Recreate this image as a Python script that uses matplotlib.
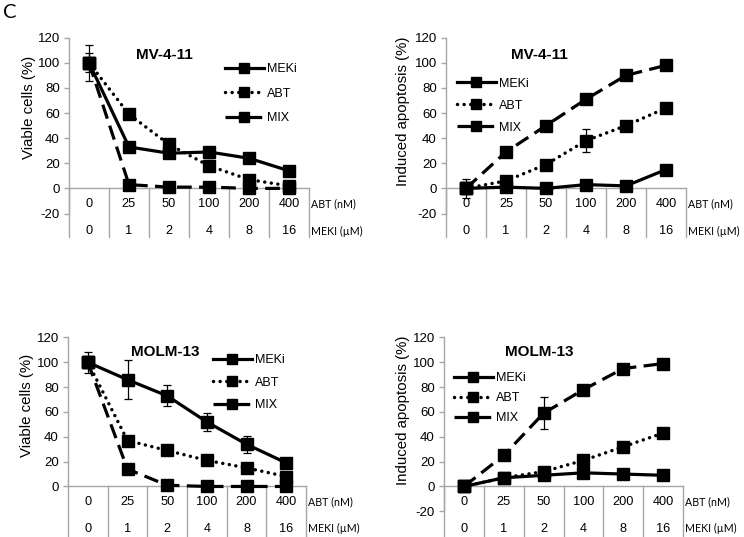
import matplotlib
matplotlib.use("Agg")
import matplotlib.pyplot as plt
import numpy as np

# ---------------- data ----------------
abt_labels = ["0", "25", "50", "100", "200", "400"]
meki_labels = ["0", "1", "2", "4", "8", "16"]
series_names = ["MEKi", "ABT", "MIX"]

# MV-4-11 viable cells (%)
mv_viable_meki = [100, 33, 28, 29, 24, 14]
mv_viable_abt = [100, 59, 35, 18, 7, 2]
mv_viable_mix = [100, 3, 1, 1, 0, 0]
mv_viable_meki_err = [14.5, 0, 0, 0, 0, 0]
mv_viable_abt_err = [7.5, 0, 0, 4.5, 0, 0]
mv_viable_mix_err = [0, 0, 0, 0, 0, 0]

# MV-4-11 induced apoptosis (%)
mv_apop_meki = [0, 1, 0, 3, 2, 15]
mv_apop_abt = [0, 6, 19, 38, 50, 64]
mv_apop_mix = [0, 29, 50, 71, 90, 98]
mv_apop_meki_err = [7.5, 0, 0, 0, 0, 0]
mv_apop_abt_err = [0, 0, 0, 9, 0, 0]
mv_apop_mix_err = [0, 0, 0, 0, 0, 0]

# MOLM-13 viable cells (%)
mo_viable_meki = [100, 86, 73, 52, 34, 19]
mo_viable_abt = [100, 37, 29, 21, 15, 8]
mo_viable_mix = [100, 14, 1, 0, 0, 0]
mo_viable_meki_err = [8.5, 15.5, 8.5, 7.5, 7, 0]
mo_viable_abt_err = [0, 0, 0, 0, 0, 0]
mo_viable_mix_err = [0, 0, 0, 0, 0, 0]

# MOLM-13 induced apoptosis (%)
mo_apop_meki = [0, 7, 9, 11, 10, 9]
mo_apop_abt = [0, 7, 12, 21, 32, 43]
mo_apop_mix = [0, 25, 59, 78, 95, 99]
mo_apop_meki_err = [0, 0, 0, 0, 0, 0]
mo_apop_abt_err = [0, 0, 0, 0, 0, 0]
mo_apop_mix_err = [0, 0, 13, 0, 0, 0]

# ---------------- style ----------------
W, H = 744, 537
fig = plt.figure(figsize=(W / 100, H / 100), dpi=100)
ARIAL = "Liberation Sans"
CAL = "Lato"
GRAY = "#a6a6a6"
FS_TICK = 9.5
FS_CAT = 9.2
FS_LEG = 9.0
FS_YLAB = 10.8

styles = [
    dict(linestyle="-", lw=2.3),
    dict(linestyle=(0, (0.01, 1.9)), lw=2.5, dash_capstyle="round"),
    dict(linestyle=(0, (4.6, 2.3)), lw=2.3),
]


def px_axes(left, right, top_px, bottom_px):
    return fig.add_axes([left / W, 1 - bottom_px / H, (right - left) / W, (bottom_px - top_px) / H])


def panel(rect, ylabel, title, data, errs, show_m20, ylabel_xy, title_xy, leg_xy, leg_spacing, table_bottom):
    ax = px_axes(*rect)
    x = np.arange(len(abt_labels))
    for vals, err, st, name in zip(data, errs, styles, series_names):
        ax.plot(x, vals, color="black", marker="s", markersize=8.2, label=name,
                clip_on=False, zorder=3, **st)
        err = np.array(err, dtype=float)
        m = err > 0
        if m.any():
            ax.errorbar(x[m], np.array(vals)[m], yerr=err[m], fmt="none", ecolor="black",
                        elinewidth=0.9, capsize=3.0, capthick=0.9, zorder=4, clip_on=False)
    ax.set_xlim(-0.5, 5.5)
    ax.set_ylim(-20, 120)
    ticks = [-20, 0, 20, 40, 60, 80, 100, 120] if show_m20 else [0, 20, 40, 60, 80, 100, 120]
    ax.set_yticks(ticks)
    ax.set_yticklabels([str(t) for t in ticks], fontsize=FS_TICK, fontfamily=ARIAL)
    ax.set_xticks([])
    for s in ["top", "right", "bottom"]:
        ax.spines[s].set_visible(False)
    ax.spines["left"].set_color(GRAY)
    ax.spines["left"].set_linewidth(1.0)
    if not show_m20:
        ax.spines["left"].set_bounds(0, 120)
    ax.tick_params(axis="y", direction="out", length=3.6, width=1.0, color=GRAY, pad=3.0,
                   labelcolor="black")
    ax.set_ylabel(ylabel, fontsize=FS_YLAB, fontfamily=ARIAL)
    ax.yaxis.set_label_coords(*ylabel_xy)
    # category table
    ax.plot([-0.5, 5.5], [0, 0], color=GRAY, lw=1.0, clip_on=False, zorder=1)
    for k in range(7):
        ax.plot([-0.5 + k, -0.5 + k], [0, table_bottom], color=GRAY, lw=1.0, clip_on=False, zorder=1)
    for i in range(6):
        ax.text(i, -12.5, abt_labels[i], ha="center", va="center", fontsize=FS_CAT, fontfamily=ARIAL)
        ax.text(i, -34, meki_labels[i], ha="center", va="center", fontsize=FS_CAT, fontfamily=ARIAL)
    ax.text(5.56, -12.5, "ABT (nM)", ha="left", va="center", fontsize=7.7, fontfamily=CAL)
    ax.text(5.56, -34, "MEKI (\u00b5M)", ha="left", va="center", fontsize=7.7, fontfamily=CAL)
    ax.text(title_xy[0], title_xy[1], title, transform=ax.transAxes, ha="center", va="center",
            fontsize=11, fontweight="bold", fontfamily=ARIAL)
    leg = ax.legend(loc="upper left", bbox_to_anchor=leg_xy, frameon=False, borderpad=0,
                    borderaxespad=0, handlelength=3.1, handletextpad=0.25, numpoints=1,
                    labelspacing=leg_spacing, prop=dict(family=ARIAL, size=FS_LEG))
    for h in leg.legend_handles:
        h.set_markersize(7.0)
    return ax


panel((69, 309, 37.7, 213.5), "Viable cells (%)", "MV-4-11",
      [mv_viable_meki, mv_viable_abt, mv_viable_mix],
      [mv_viable_meki_err, mv_viable_abt_err, mv_viable_mix_err],
      True, (-0.1375, 0.606), (0.396, 0.902), (0.65, 0.855), 1.0, -39)

panel((446, 686, 37.7, 213.5), "Induced apoptosis (%)", "MV-4-11",
      [mv_apop_meki, mv_apop_abt, mv_apop_mix],
      [mv_apop_meki_err, mv_apop_abt_err, mv_apop_mix_err],
      True, (-0.15, 0.583), (0.3875, 0.902), (0.046, 0.773), 0.81, -39)

panel((68, 306, 337.5, 511.3), "Viable cells (%)", "MOLM-13",
      [mo_viable_meki, mo_viable_abt, mo_viable_mix],
      [mo_viable_meki_err, mo_viable_abt_err, mo_viable_mix_err],
      False, (-0.143, 0.612), (0.408, 0.917), (0.609, 0.905), 0.85, -45)

panel((444, 683, 337.5, 511.3), "Induced apoptosis (%)", "MOLM-13",
      [mo_apop_meki, mo_apop_abt, mo_apop_mix],
      [mo_apop_meki_err, mo_apop_abt_err, mo_apop_mix_err],
      True, (-0.142, 0.583), (0.397, 0.917), (0.042, 0.801), 0.65, -45)

fig.text(3 / W, 1 - 18.5 / H, "C", ha="left", va="baseline", fontsize=14.5, fontfamily=CAL)

fig.savefig("out.png", dpi=100)
